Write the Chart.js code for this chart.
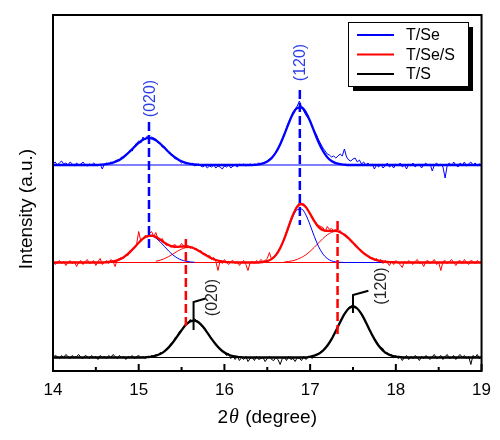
<!DOCTYPE html>
<html lang="en">
<head>
<meta charset="UTF-8">
<title>XRD patterns T/Se, T/Se/S, T/S</title>
<script src="https://cdn.jsdelivr.net/npm/chart.js"></script>
<style>
  body { margin: 0; background: #fff; }
</style>
</head>
<body>
<canvas id="xrdChart" width="500" height="440"></canvas>
<script>
// 2theta scan, 14 - 19 degree
const rawStart = 14, rawStep = 0.025;
const fitStart = 14, fitStep = 0.05;

const seriesNames = ['T/Se', 'T/Se/S', 'T/S'];
const seriesColors = ['#0000ff', '#ff0000', '#000000'];
// vertical shift of each pattern (stacked plot)
const seriesOffsets = [206, 108.5, 13.5];

// measured intensities
const blueRaw = [
  1, 3, 0, 2, 4, 1, 2, 0, 3, 1, -1, 2, 0, 1, 3, 0, -1, 1, 0, 2, 0, -1, 1, -4,
  1, 2, 1, 3, 2, 4, 5, 4, 8, 7, 11, 12, 15, 14, 19, 22, 24, 22, 28, 25, 29, 27, 28, 27,
  26, 22, 22, 18, 18, 16, 12, 11, 10, 6, 7, 4, 2, 3, 1, 2, 0, 2, -1, 0, 1, -1, -2, 0,
  -3, -1, -2, 0, -3, -1, -2, -4, -1, -2, 0, -3, -1, 0, -2, 1, 0, 1, -1, 0, 1, 0, 1, 0,
  2, 1, 2, 3, 4, 6, 7, 10, 13, 17, 21, 26, 31, 37, 43, 48, 53, 56, 59, 64, 58, 54, 50, 47,
  44, 38, 34, 30, 25, 21, 17, 14, 11, 10, 8, 9, 7, 9, 11, 9, 16, 8, 5, 4, 6, 7, 3, 5,
  1, 3, 0, 2, -1, 1, -4, 0, -2, 1, -3, -1, 2, -2, 0, -3, 1, -1, 2, -2, 0, -4, 1, -1,
  2, -2, 0, 1, -3, 0, 2, -1, 1, -6, 0, 2, -1, 1, -2, -13, 0, 2, -1, 3, 0, -2, 2, 0,
  3, -1, 1, 3, 0, 2, -1, 1, 0
];
const redRaw = [
  1, -2, 0, 2, -1, 1, -3, 0, 2, -1, 1, -4, 0, 2, -2, 1, 3, -1, 0, 2, -3, 1, 4, -2,
  0, 2, -1, 3, 1, -4, 3, 4, 5, 4, 8, 7, 12, 12, 16, 18, 31, 21, 24, 27, 25, 29, 31, 26,
  30, 23, 22, 24, 19, 17, 18, 15, 17, 18, 15, 16, 19, 16, 15, 17, 14, 16, 13, 14, 11, 12, 8, 9,
  6, 7, 3, 5, 1, -8, 2, -1, 3, 0, -2, 1, 2, -1, 1, -3, 0, 2, -2, -8, 0, 1, -1, 2,
  0, 3, 1, 2, 4, 10, 3, 6, 8, 11, 15, 19, 25, 31, 37, 43, 48, 53, 57, 60, 58, 57, 55, 53,
  48, 46, 42, 39, 37, 36, 35, 31, 36, 33, 34, 32, 33, 31, 32, 29, 28, 27, 25, 23, 20, 18, 16, 13,
  12, 9, 8, 6, 4, 5, 2, 4, 1, 3, -1, 2, 0, -3, 1, -2, 2, 0, -2, -5, 1, -1, 2, 0,
  -2, 1, 3, -1, 0, -4, 1, 2, -1, 1, 3, -2, 0, -8, 1, 2, -1, 1, 3, 0, -3, 1, 2, -1,
  3, 0, -2, 2, 1, -1, 2, 0, 1
];
const blackRaw = [
  0, 2, 1, -1, 2, 0, 3, 1, -1, 2, 0, 1, 3, 0, -1, 2, 1, -1, 2, 0, 1, -2, 2, 0,
  1, -1, 2, 0, 3, 1, -1, 2, 0, 1, -2, 1, 0, 2, -1, 1, 2, 0, 1, -1, 1, 0, 2, 1,
  3, 2, 5, 4, 7, 9, 10, 14, 15, 20, 21, 26, 27, 31, 34, 34, 38, 36, 39, 37, 36, 32, 31, 29,
  25, 22, 19, 16, 14, 11, 9, 6, 5, 2, 4, -1, 2, -2, 1, -3, 0, -2, 1, -4, -1, 0, -3, 1,
  -2, -1, 0, -4, -1, 1, -2, -3, 0, -2, -7, -1, 0, -3, 1, -2, -1, -4, 0, -1, -3, 1, -2, 0,
  1, -1, 2, 3, 4, 6, 7, 9, 12, 15, 18, 23, 27, 31, 35, 40, 44, 46, 50, 51, 53, 50, 49, 47,
  43, 40, 35, 31, 27, 22, 19, 16, 12, 10, 9, 4, 5, 2, 3, 0, 2, -1, 1, -3, 0, 2, -2, 1,
  -1, 2, 0, -3, 1, -1, 2, 0, -2, 1, 3, -1, 0, 2, -2, 1, 3, -1, 0, 2, -2, 1, 3, 0,
  2, -1, 1, -7, 2, 0, 3, -1, 1
];

// cumulative peak fits
const blueFit = [
  0, 0, 0, 0, 0, 0, 0, 0, 0, 0, 0, 0.3,
  0.6, 1.3, 2.3, 4.1, 6.5, 9.8, 13.8, 18.1, 22.1, 25.2, 26.9, 26.7, 24.7, 21.4, 17.2, 13.0, 9.1, 6.0, 3.7, 2.1, 1.1, 0.5, 0.2,
  0, 0, 0, 0, 0, 0, 0, 0, 0, 0, 0, 0,
  0.2, 0.6, 1.6, 3.5, 6.9, 12.5, 20.6, 30.8, 41.7, 51.2, 57.0, 57.5, 52.7, 43.8, 33.0, 22.5, 14.0, 7.8, 4.0, 1.9, 0.8, 0.3,
  0, 0, 0, 0, 0, 0, 0, 0, 0, 0, 0, 0, 0, 0, 0, 0, 0, 0, 0, 0, 0, 0, 0, 0, 0, 0, 0, 0, 0, 0, 0, 0
];
const redFit = [
  0, 0, 0, 0, 0, 0, 0, 0, 0, 0, 0, 0,
  0.2, 0.5, 1.1, 2.2, 4.0, 6.8, 10.6, 15.1, 19.8, 23.8, 26.4, 26.9, 25.6, 23.0, 19.9, 17.5, 16.0, 15.7, 15.9, 16.1,
  15.5, 14.0, 11.7, 9.1, 6.5, 4.2, 2.5, 1.4, 0.7, 0.3, 0.1,
  0, 0, 0, 0, 0, 0,
  0.5, 1.4, 3.4, 7.4, 14.3, 24.1, 36.1, 47.7, 55.9, 58.5, 55.4, 48.6, 41.1, 35.4, 32.4, 31.7,
  31.7, 31.6, 30.3, 27.7, 24.0, 19.7, 15.3, 11.2, 7.7, 5.1, 3.1, 1.8, 1.0, 0.5, 0.3, 0.1,
  0, 0, 0, 0, 0, 0, 0, 0, 0, 0, 0, 0, 0, 0, 0, 0, 0, 0, 0, 0
];
const blackFit = [
  0, 0, 0, 0, 0, 0, 0, 0, 0, 0, 0, 0, 0, 0, 0, 0, 0, 0, 0, 0, 0, 0,
  0.4, 0.9, 1.9, 3.5, 6.2, 10.1, 15.2, 21.2, 27.3, 32.7, 36.1, 36.9, 35.0, 30.7, 24.9, 18.7, 13.0, 8.4, 5.0, 2.8, 1.4, 0.7, 0.3,
  0, 0, 0, 0, 0, 0, 0, 0, 0, 0, 0, 0, 0, 0, 0,
  0.9, 1.9, 3.7, 6.9, 11.7, 18.4, 26.5, 35.3, 43.3, 49.0, 51.0, 49.0, 43.3, 35.3, 26.5, 18.4, 11.7, 6.9, 3.7, 1.9, 0.9, 0.4,
  0, 0, 0, 0, 0, 0, 0, 0, 0, 0, 0, 0, 0, 0, 0, 0, 0, 0, 0
];

// single peak components of T/Se/S
const redCompStart = [14.6, 15.2, 16.4, 16.7];
const redCompColors = ['#0000ff', '#ff0000', '#0000ff', '#ff0000'];
const redComp1 = [0.2, 0.5, 1.1, 2.2, 4.0, 6.8, 10.6, 15.1, 19.8, 23.7, 26.1, 26.3, 24.4, 20.7, 16.1, 11.5, 7.5, 4.5, 2.5, 1.3, 0.6, 0.2];
const redComp2 = [1.2, 2.3, 3.8, 6.0, 8.5, 11.2, 13.4, 14.8, 14.9, 13.8, 11.7, 9.1, 6.5, 4.2, 2.5, 1.4, 0.7, 0.3, 0.1];
const redComp3 = [0.2, 0.5, 1.4, 3.4, 7.3, 14.0, 23.6, 35.1, 45.9, 52.8, 53.4, 47.7, 37.4, 25.8, 15.7, 8.4, 4.0, 1.6, 0.6, 0.2, 0, 0, 0, 0, 0, 0, 0, 0, 0, 0];
const redComp4 = [0.5, 1.0, 1.8, 3.1, 5.1, 7.7, 11.2, 15.3, 19.7, 24.0, 27.7, 30.1, 31.0, 30.1, 27.7, 24.0, 19.7, 15.3, 11.2, 7.7, 5.1, 3.1, 1.8, 1.0, 0.5, 0.3, 0.1];

// peak position guides (dashed), in axis units
const guideX = [15.12, 16.88, 15.55, 17.32];
const guideTop = [249, 281, 132, 150];
const guideBottom = [123, 146, 41, 33];
const guideColors = ['#0000ff', '#0000ff', '#ff0000', '#ff0000'];

// black peak flags
const flagX = [15.64, 17.5];
const flagBottom = [41, 58];
const flagTop = [69, 76];
const flagEndX = [15.78, 17.68];
const flagEndY = [72.5, 80.3];

// (hkl) labels
const hklText = ['(020)', '(120)', '(020)', '(120)'];
const hklX = [15.14, 16.89, 15.865, 17.83];
const hklY = [272.5, 308.5, 73.5, 85];
const hklColors = ['#2a3ee6', '#2a3ee6', '#222222', '#222222'];

const fontFamily = '"Liberation Sans", Arial, sans-serif';

function toPoints(values, start, step, offset) {
  return values.map((v, k) => ({ x: +(start + k * step).toFixed(3), y: v + offset }));
}

const fits = [blueFit, redFit, blackFit];
const raws = [blueRaw, redRaw, blackRaw];
const comps = [redComp1, redComp2, redComp3, redComp4];

const datasets = [];
// thick fitted curves on top
fits.forEach((f, s) => datasets.push({
  data: toPoints(f, fitStart, fitStep, seriesOffsets[s]),
  borderColor: seriesColors[s], borderWidth: 2.3, cubicInterpolationMode: 'monotone'
}));
comps.forEach((c, k) => datasets.push({
  data: toPoints(c, redCompStart[k], fitStep, seriesOffsets[1]),
  borderColor: redCompColors[k], borderWidth: 1, cubicInterpolationMode: 'monotone'
}));
raws.forEach((r, s) => datasets.push({
  data: toPoints(r, rawStart, rawStep, seriesOffsets[s]),
  borderColor: seriesColors[s], borderWidth: 1
}));
// baselines
seriesOffsets.forEach((off, s) => datasets.push({
  data: [{ x: 14, y: off }, { x: 19, y: off }],
  borderColor: seriesColors[s], borderWidth: 1
}));

function drawText(ctx, text, x, y, font, color, angle) {
  ctx.save();
  ctx.translate(x, y);
  if (angle) ctx.rotate(angle);
  ctx.font = font;
  ctx.fillStyle = color;
  ctx.textAlign = 'center';
  ctx.textBaseline = 'middle';
  ctx.fillText(text, 0, 0);
  ctx.restore();
}

const decorPlugin = {
  id: 'decor',
  afterDraw(chart) {
    const { ctx, chartArea: a, scales: { x, y } } = chart;
    ctx.save();

    // frame
    ctx.strokeStyle = '#000';
    ctx.lineWidth = 2;
    ctx.strokeRect(a.left, a.top, a.right - a.left, a.bottom - a.top);

    // inward ticks, minor ones half way
    const majors = x.ticks.map(t => t.value);
    ctx.beginPath();
    majors.forEach((v, k) => {
      const px = x.getPixelForValue(v);
      ctx.moveTo(px, a.bottom); ctx.lineTo(px, a.bottom - 7);
      if (k < majors.length - 1) {
        const pm = x.getPixelForValue((v + majors[k + 1]) / 2);
        ctx.moveTo(pm, a.bottom); ctx.lineTo(pm, a.bottom - 4);
      }
    });
    ctx.stroke();

    // dashed guides
    ctx.lineWidth = 2.5;
    ctx.setLineDash([9, 4]);
    guideX.forEach((gx, k) => {
      ctx.strokeStyle = guideColors[k];
      ctx.beginPath();
      ctx.moveTo(x.getPixelForValue(gx), y.getPixelForValue(guideTop[k]));
      ctx.lineTo(x.getPixelForValue(gx), y.getPixelForValue(guideBottom[k]));
      ctx.stroke();
    });
    ctx.setLineDash([]);

    // flags on T/S peaks
    ctx.strokeStyle = '#000';
    ctx.lineWidth = 2;
    flagX.forEach((fx, k) => {
      ctx.beginPath();
      ctx.moveTo(x.getPixelForValue(fx), y.getPixelForValue(flagBottom[k]));
      ctx.lineTo(x.getPixelForValue(fx), y.getPixelForValue(flagTop[k]));
      ctx.lineTo(x.getPixelForValue(flagEndX[k]), y.getPixelForValue(flagEndY[k]));
      ctx.stroke();
    });

    // hkl labels
    hklText.forEach((t, k) => {
      drawText(ctx, t, x.getPixelForValue(hklX[k]), y.getPixelForValue(hklY[k]),
        '16px ' + fontFamily, hklColors[k], -Math.PI / 2);
    });

    // axis titles
    drawText(ctx, 'Intensity (a.u.)', 27, 209, '19px ' + fontFamily, '#000', -Math.PI / 2);
    const cx = (a.left + a.right) / 2, ty = 423;
    const fN = '19px ' + fontFamily, fI = 'italic 20px "Liberation Serif", serif';
    ctx.textBaseline = 'alphabetic';
    ctx.textAlign = 'left';
    ctx.font = fN; const w1 = ctx.measureText('2').width, w3 = ctx.measureText(' (degree)').width;
    ctx.font = fI; const w2 = ctx.measureText('\u03b8').width + 2;
    let tx = cx - (w1 + w2 + w3) / 2;
    ctx.fillStyle = '#000';
    ctx.font = fN; ctx.fillText('2', tx, ty); tx += w1 + 1;
    ctx.font = fI; ctx.fillText('\u03b8', tx, ty); tx += w2 - 1;
    ctx.font = fN; ctx.fillText(' (degree)', tx, ty);

    // legend with drop shadow
    const lx = 348, ly = 22, lw = 120, lh = 64;
    ctx.fillStyle = '#000';
    ctx.fillRect(lx + 5, ly + 5, lw, lh);
    ctx.fillStyle = '#fff';
    ctx.fillRect(lx, ly, lw, lh);
    ctx.strokeStyle = '#000';
    ctx.lineWidth = 1;
    ctx.strokeRect(lx + 0.5, ly + 0.5, lw, lh);
    seriesNames.forEach((name, k) => {
      const ry = ly + 13 + k * 19.5;
      ctx.strokeStyle = seriesColors[k];
      ctx.lineWidth = 2;
      ctx.beginPath(); ctx.moveTo(357, ry); ctx.lineTo(394, ry); ctx.stroke();
      ctx.fillStyle = '#000';
      ctx.font = '16px ' + fontFamily;
      ctx.textAlign = 'left';
      ctx.textBaseline = 'middle';
      ctx.fillText(name, 406, ry + 1);
    });

    ctx.restore();
  }
};

new Chart(document.getElementById('xrdChart'), {
  type: 'line',
  data: { datasets: datasets },
  options: {
    responsive: false,
    animation: false,
    devicePixelRatio: 1,
    layout: { padding: { left: 53, right: 18, top: 15, bottom: 0 } },
    plugins: { legend: { display: false }, tooltip: { enabled: false } },
    elements: { point: { radius: 0 }, line: { tension: 0 } },
    scales: {
      x: {
        type: 'linear', min: 14, max: 19,
        grid: { display: false, drawTicks: false },
        border: { display: false },
        ticks: { stepSize: 1, color: '#000', padding: 9, maxRotation: 0, font: { family: fontFamily, size: 17 } },
        afterFit(s) { s.height = 69; }
      },
      y: { type: 'linear', min: 0, max: 356, display: false }
    }
  },
  plugins: [decorPlugin]
});
</script>
</body>
</html>
